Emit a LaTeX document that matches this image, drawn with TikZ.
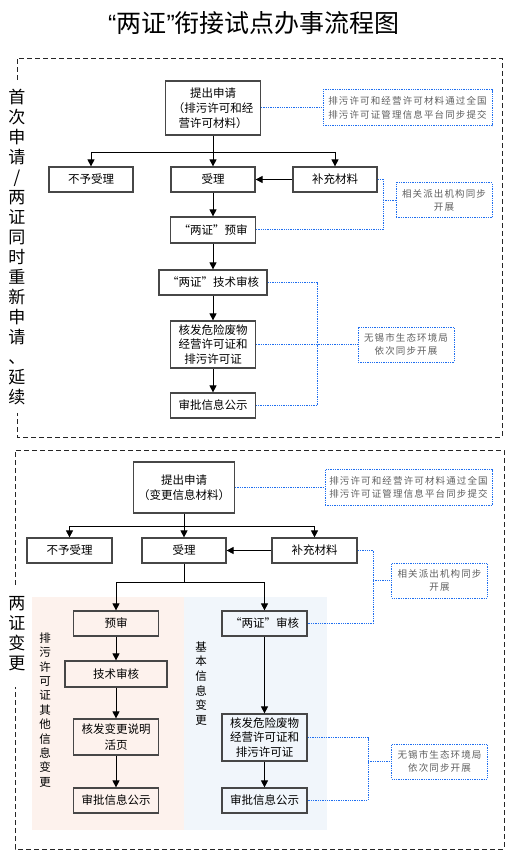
\documentclass[tikz,border=0pt]{standalone}
\usepackage{fontspec}
\setmainfont{Noto Sans CJK SC}
\newfontfamily\latq{Liberation Sans}
\newfontfamily\notefont[LetterSpace=12]{Noto Sans CJK SC}
\usetikzlibrary{arrows.meta}
\definecolor{bluedot}{RGB}{30,110,240}
\definecolor{notegray}{RGB}{95,95,95}
\definecolor{pinkbg}{RGB}{253,242,237}
\definecolor{bluebg}{RGB}{241,246,251}
\begin{document}
\begin{tikzpicture}[x=1pt,y=-1pt,
 box/.style={draw=black!72,line width=1.2pt,inner sep=0pt,align=center,font=\fontsize{11.5}{15}\selectfont},
 note/.style={draw=bluedot,line width=1pt,dash pattern=on 1.3pt off 1pt,inner sep=0pt,align=center,text=notegray,font=\notefont\fontsize{9.5}{13.3}\selectfont,minimum width=96pt,minimum height=35pt},
 arr/.style={-{Triangle[length=7pt,width=7pt]},line width=0.8pt},
 ln/.style={line width=0.8pt},
 dotl/.style={draw=bluedot,line width=1pt,dash pattern=on 1.3pt off 1pt},
 frame/.style={line width=0.9pt,dash pattern=on 5pt off 3pt,draw=black!85},
 vlab/.style={align=center,inner sep=0pt}
]
\useasboundingbox (0,0) rectangle (508,858);
% title
\node (title) at (254,23) {\fontsize{25}{25}\selectfont{\latq “}两证{\latq ”}衔接试点办事流程图};
% frames
\draw[frame] (17,80) -- (17,58) -- (502,58) -- (502,437) -- (17,437) -- (17,413);
\draw[frame] (15,585) -- (15,450) -- (504,450) -- (504,849) -- (15,849) -- (15,687);
% side labels
\node[vlab,font=\fontsize{17}{20}\selectfont] (lab1) at (17,247.5) {首\\次\\申\\请\\/\\两\\证\\同\\时\\重\\新\\申\\请\\、\\延\\续};
\node[vlab,font=\fontsize{17}{20}\selectfont] (lab2) at (17,633.5) {两\\证\\变\\更};
% panels
\fill[pinkbg] (32,597) rectangle (184,830);
\fill[bluebg] (184,597) rectangle (327,830);
\node[vlab,font=\fontsize{11.5}{14.4}\selectfont] (lab3) at (45,710) {排\\污\\许\\可\\证\\其\\他\\信\\息\\变\\更};
\node[vlab,font=\fontsize{11.5}{14.6}\selectfont] (lab4) at (201,683.5) {基\\本\\信\\息\\变\\更};

% ---- top section ----
\node[box,minimum width=95pt,minimum height=54pt] (a1) at (213,108) {提出申请\\（排污许可和经\\营许可材料）};
\node[note,minimum width=169pt,minimum height=36pt] (n1) at (407.5,108) {排污许可和经营许可材料通过全国\\排污许可证管理信息平台同步提交};
\node[box,minimum width=84pt,minimum height=25pt] (r0) at (91,179.5) {不予受理};
\node[box,minimum width=84pt,minimum height=25pt] (r1) at (213,179.5) {受理};
\node[box,minimum width=84pt,minimum height=25pt] (s1) at (335,179.5) {补充材料};
\node[note] (n2) at (444,200.5) {相关派出机构同步\\开展};
\node[box,minimum width=85pt,minimum height=26pt] (p1) at (213,230) {“两证”预审};
\node[box,minimum width=108pt,minimum height=25pt] (t1) at (213,282.5) {“两证”技术审核};
\node[box,minimum width=85pt,minimum height=47pt,font=\fontsize{11.5}{14.5}\selectfont] (h1) at (213,344.5) {核发危险废物\\经营许可证和\\排污许可证};
\node[box,minimum width=85pt,minimum height=25pt] (g1) at (213,405.5) {审批信息公示};
\node[note] (n3) at (406,344.5) {无锡市生态环境局\\依次同步开展};

\coordinate (j1) at (213,152);
\draw[ln] (a1.south) -- (j1);
\draw[ln] (r0.north |- j1) -- (s1.north |- j1);
\draw[arr] (r0.north |- j1) -- (r0.north);
\draw[arr] (j1) -- (r1.north);
\draw[arr] (s1.north |- j1) -- (s1.north);
\draw[arr] (s1.west) -- (r1.east);
\draw[arr] (r1.south) -- (p1.north);
\draw[arr] (p1.south) -- (t1.north);
\draw[arr] (t1.south) -- (h1.north);
\draw[arr] (h1.south) -- (g1.north);

\draw[dotl] (a1.east) -- (n1.west);
\coordinate (d1) at (383,200.5);
\draw[dotl] (s1.east) -| (d1) |- (p1.east);
\draw[dotl] (d1) -- (n2.west);
\coordinate (d2) at (317,344.5);
\draw[dotl] (t1.east) -| (d2) |- (g1.east);
\draw[dotl] (h1.east) -- (n3.west);

% ---- bottom section ----
\node[box,minimum width=101pt,minimum height=51pt] (a2) at (184,487.5) {提出申请\\（变更信息材料）};
\node[note,minimum width=167pt,minimum height=36pt] (n4) at (408.5,487.5) {排污许可和经营许可材料通过全国\\排污许可证管理信息平台同步提交};
\node[box,minimum width=85pt,minimum height=25pt] (r2) at (69.5,550.5) {不予受理};
\node[box,minimum width=84pt,minimum height=25pt] (r3) at (184,550.5) {受理};
\node[box,minimum width=85pt,minimum height=25pt] (s2) at (314.5,550.5) {补充材料};
\node[note] (n5) at (439.5,580.5) {相关派出机构同步\\开展};

\node[box,minimum width=85pt,minimum height=25pt] (b1) at (116,623.5) {预审};
\node[box,minimum width=102pt,minimum height=26pt] (b2) at (116,674) {技术审核};
\node[box,minimum width=85pt,minimum height=36pt,font=\fontsize{11.5}{16.5}\selectfont] (b3) at (116,737) {核发变更说明\\活页};
\node[box,minimum width=85pt,minimum height=25pt] (b4) at (116,800.5) {审批信息公示};

\node[box,minimum width=85pt,minimum height=25pt] (c1) at (264.5,623.5) {“两证”审核};
\node[box,minimum width=85pt,minimum height=47pt,font=\fontsize{11.5}{14.5}\selectfont] (c2) at (264.5,737.5) {核发危险废物\\经营许可证和\\排污许可证};
\node[box,minimum width=85pt,minimum height=25pt] (c3) at (264.5,800.5) {审批信息公示};
\node[note] (n6) at (439.5,761.5) {无锡市生态环境局\\依次同步开展};

\coordinate (j2) at (184,526);
\draw[ln] (a2.south) -- (j2);
\draw[ln] (r2.north |- j2) -- (s2.north |- j2);
\draw[arr] (r2.north |- j2) -- (r2.north);
\draw[arr] (j2) -- (r3.north);
\draw[arr] (s2.north |- j2) -- (s2.north);
\draw[arr] (s2.west) -- (r3.east);

\coordinate (j3) at (184,582);
\draw[ln] (r3.south) -- (j3);
\draw[ln] (b1.north |- j3) -- (c1.north |- j3);
\draw[arr] (b1.north |- j3) -- (b1.north);
\draw[arr] (c1.north |- j3) -- (c1.north);
\draw[arr] (b1.south) -- (b2.north);
\draw[arr] (b2.south) -- (b3.north);
\draw[arr] (b3.south) -- (b4.north);
\draw[arr] (c1.south) -- (c2.north);
\draw[arr] (c2.south) -- (c3.north);

\draw[dotl] (a2.east) -- (n4.west);
\coordinate (d3) at (373,580.5);
\draw[dotl] (s2.east) -| (d3) |- (c1.east);
\draw[dotl] (d3) -- (n5.west);
\coordinate (d4) at (368,761.5);
\draw[dotl] (c2.east) -| (d4) |- (c3.east);
\draw[dotl] (d4) -- (n6.west);
\end{tikzpicture}
\end{document}
